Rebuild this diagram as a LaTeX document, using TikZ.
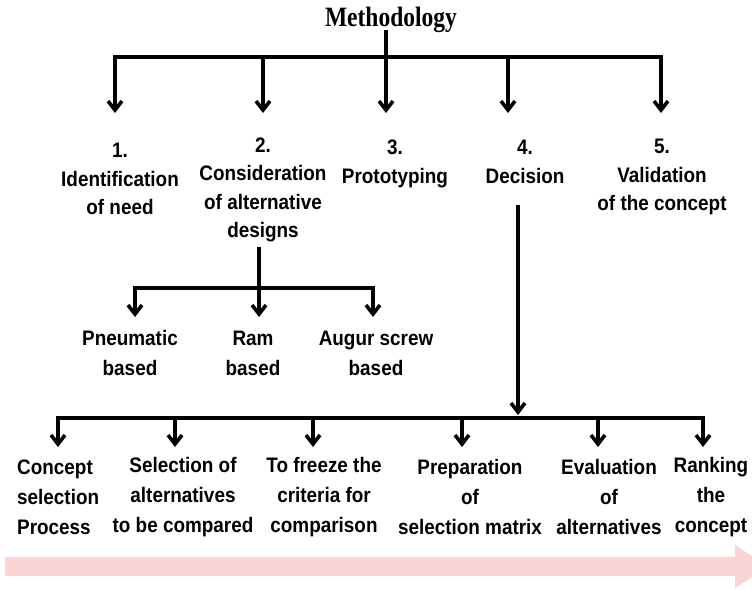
\documentclass[tikz,border=0pt]{standalone}
\usepackage{fontspec}
\setmainfont{Liberation Sans}[FakeStretch=0.9]
\newfontfamily\titlefont{Liberation Serif}[FakeStretch=0.84]
\usetikzlibrary{arrows.meta}
\definecolor{bandpink}{RGB}{250,212,212}
\begin{document}
\begin{tikzpicture}[x=1pt,y=-1pt,
  lbl/.style={align=center, inner sep=0pt, font=\bfseries\fontsize{21}{28.5}\selectfont},
  lbllow/.style={lbl, font=\bfseries\fontsize{21}{30}\selectfont},
  tree/.style={line width=3.6pt},
  bar/.style={tree, line cap=rect},
  arr/.style={tree, -{Straight Barb[length=9pt,width=14pt]}},
]
\useasboundingbox (0,0) rectangle (752,589);

% process band along the bottom
\fill[bandpink] (5,557) -- (735,557) -- (735,545) -- (768,566.5)
  -- (735,588) -- (735,576) -- (5,576) -- cycle;

% title
\node[font=\titlefont\bfseries\fontsize{28}{30}\selectfont, inner sep=0pt, anchor=base]
  (title) at (391,27) {Methodology};

% main steps
\node[lbl] (n1) at (120,179) {1.\\Identification\\of need};
\node[lbl] (n2) at (263,190) {2.\\Consideration\\of alternative\\designs};
\node[lbl] (n3) at (395,164) {3.\\Prototyping};
\node[lbl] (n4) at (525,162) {4.\\Decision};
\node[lbl] (n5) at (662,177) {5.\\Validation\\of the concept};

% alternative designs
\node[lbllow] (p1) at (130,353) {Pneumatic\\based};
\node[lbllow] (p2) at (253,353) {Ram\\based};
\node[lbllow] (p3) at (376,353) {Augur screw\\based};

% decision sub-steps
\node[lbllow, align=left, anchor=west] (s1) at (17,497) {Concept\\selection\\Process};
\node[lbllow] (s2) at (183,497) {Selection of\\alternatives\\to be compared};
\node[lbllow] (s3) at (324,497) {To freeze the\\criteria for\\comparison};
\node[lbllow] (s4) at (470,497) {Preparation\\of\\selection matrix};
\node[lbllow] (s5) at (609,497) {Evaluation\\of\\alternatives};
\node[lbllow] (s6) at (711,497) {Ranking\\the\\concept};

% top tree
\coordinate (mtop) at (386,30);
\coordinate (mbar) at (386,57);
\coordinate (tL) at (115,57);
\coordinate (tR) at (661,57);
\draw[tree] (mtop) -- (mbar);
\draw[bar] (tL) -- (tR);
\foreach \i/\x in {1/115,2/263,3/386,4/508,5/661}{
  \coordinate (t\i) at (\x,57);
  \coordinate (a\i) at (\x,113);
  \draw[arr] (t\i) -- (a\i);
}

% alternative designs tree
\coordinate (dtop) at (259,247);
\coordinate (dbar) at (259,288);
\coordinate (dL) at (135,288);
\coordinate (dR) at (373,288);
\draw[tree] (dtop) -- (dbar);
\draw[bar] (dL) -- (dR);
\foreach \i/\x in {1/135,2/259,3/373}{
  \coordinate (d\i) at (\x,288);
  \coordinate (e\i) at (\x,317);
  \draw[arr] (d\i) -- (e\i);
}

% decision tree
\coordinate (ktop) at (518,205);
\coordinate (kend) at (518,415);
\coordinate (bL) at (58,418);
\coordinate (bR) at (703,418);
\draw[arr] (ktop) -- (kend);
\draw[bar] (bL) -- (bR);
\foreach \i/\x in {1/58,2/175,3/313,4/462,5/598,6/703}{
  \coordinate (b\i) at (\x,418);
  \coordinate (c\i) at (\x,447);
  \draw[arr] (b\i) -- (c\i);
}
\end{tikzpicture}
\end{document}
